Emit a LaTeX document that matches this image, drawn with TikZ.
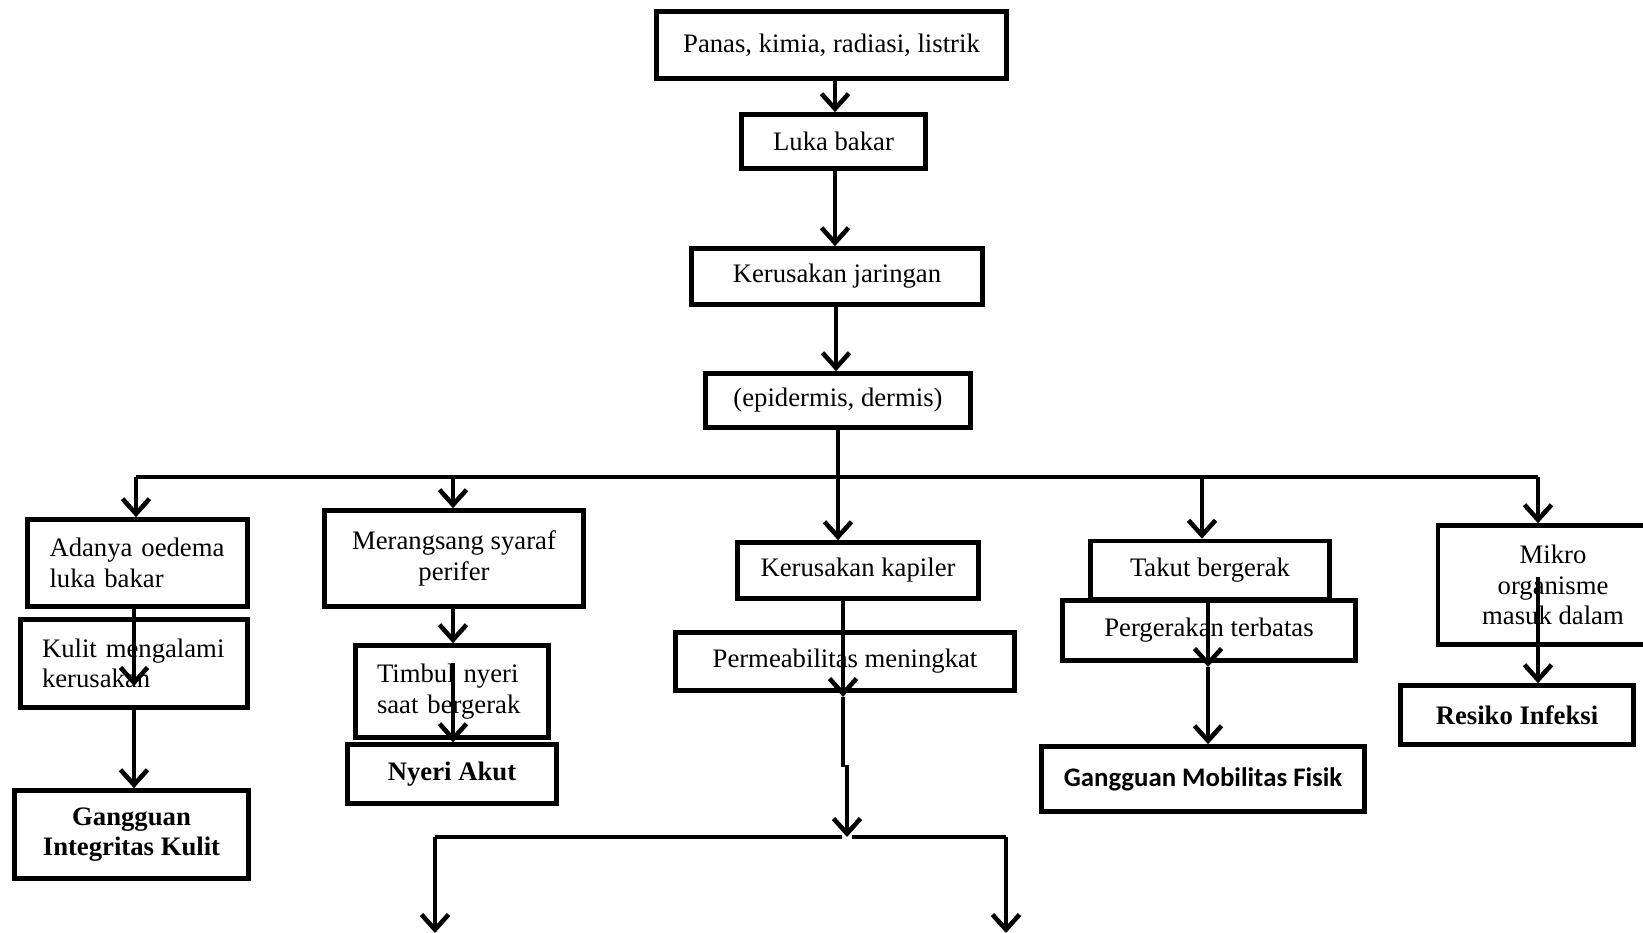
\documentclass[tikz,border=0pt]{standalone}
\usepackage{fontspec}
\setmainfont{Liberation Serif}
\newfontfamily\calibrifont{Carlito}
\usetikzlibrary{arrows.meta}

\begin{document}
\begin{tikzpicture}[x=1pt, y=-1pt,
    box/.style={draw, line width=4.6pt, fill=white, inner sep=0pt, align=center,
        font=\fontsize{26.7}{30.5}\selectfont},
    leftbox/.style={box, align=left},
    wire/.style={line width=4.6pt},
    arr/.style={line width=4.6pt, -{Straight Barb[length=15pt, width=27pt]}}]
\useasboundingbox (0,0) rectangle (1643,933);

% main chain
\node[box, minimum width=350pt, minimum height=67pt] (panas) at (831.5,45) {Panas, kimia, radiasi, listrik};
\node[box, minimum width=184pt, minimum height=54pt] (luka) at (833.5,141.5) {Luka bakar};
\node[box, minimum width=291pt, minimum height=56pt] (jaringan) at (837,276.5) {Kerusakan jaringan};
\node[box, minimum width=265pt, minimum height=54pt] (epidermis) at (838,400.5) {(epidermis, dermis)};

% branches
\node[leftbox, minimum width=220pt, minimum height=87pt, text width=176pt] (oedema) at (137.5,563) {Adanya oedema\\luka bakar};
\node[leftbox, minimum width=227pt, minimum height=88pt, text width=184pt] (kulit) at (134,663.5) {Kulit mengalami\\kerusakan};
\node[box, minimum width=234pt, minimum height=88pt, font=\fontsize{26.7}{30.5}\selectfont\bfseries] (integritas) at (131.5,834.5) {Gangguan\\Integritas Kulit};

\node[box, minimum width=259pt, minimum height=96pt] (syaraf) at (454,558.5) {Merangsang syaraf\\perifer};
\node[leftbox, minimum width=193pt, minimum height=92pt, text width=150pt] (timbul) at (452,691.5) {Timbul nyeri\\saat bergerak};
\node[box, minimum width=209pt, minimum height=59pt, font=\fontsize{26.7}{30.5}\selectfont\bfseries] (nyeri) at (452,774) {Nyeri Akut};

\node[box, minimum width=241pt, minimum height=56pt] (kapiler) at (858,570.5) {Kerusakan kapiler};
\node[box, minimum width=339pt, minimum height=58pt] (permeabilitas) at (845,661.5) {Permeabilitas meningkat};

\node[box, minimum width=239pt, minimum height=58pt] (takut) at (1210,570) {Takut bergerak};
\node[box, minimum width=293pt, minimum height=60pt] (terbatas) at (1209,630.5) {Pergerakan terbatas};
\node[box, minimum width=323pt, minimum height=65pt, font=\fontsize{26.8}{30}\selectfont\calibrifont\bfseries] (mobilitas) at (1203,779) {Gangguan Mobilitas Fisik};

\node[box, minimum width=230pt, minimum height=119pt] (mikro) at (1553,585) {Mikro\\organisme\\masuk dalam};
\node[box, minimum width=233pt, minimum height=59pt, font=\fontsize{26.7}{30.5}\selectfont\bfseries] (infeksi) at (1517,715) {Resiko Infeksi};

% bus lines
\coordinate (bus) at (838,477);
\coordinate (bus-a) at (136,477);
\coordinate (bus-b) at (453,477);
\coordinate (bus-d) at (1202,477);
\coordinate (bus-e) at (1538,477);

\coordinate (kulit-tip) at (134,686);
\coordinate (timbul-top) at (453,663);
\coordinate (perm-tip) at (843,697);
\coordinate (perm-low) at (843,767);
\coordinate (split-top) at (847,765);
\coordinate (split) at (847,837);
\coordinate (split-l) at (435,837);
\coordinate (split-r) at (1006,837);
\coordinate (out-l) at (435,933);
\coordinate (out-r) at (1006,933);
\coordinate (takut-tip) at (1208,667);
\coordinate (mikro-in) at (1538,577);

\draw[arr] (panas.south -| 835,0) -- (luka.north -| 835,0);
\draw[arr] (luka.south -| 835,0) -- (jaringan.north -| 835,0);
\draw[arr] (jaringan.south -| 836,0) -- (epidermis.north -| 836,0);
\draw[wire] (epidermis.south) -- (bus);
\draw[wire] (bus-a) -- (bus-e);

\draw[arr] (bus-a) -- (bus-a |- oedema.north);
\draw[arr] (bus-b) -- (bus-b |- syaraf.north);
\draw[arr] (bus) -- (bus |- kapiler.north);
\draw[arr] (bus-d) -- (bus-d |- takut.north);
\draw[arr] (bus-e) -- (bus-e |- mikro.north);

\draw[arr] (oedema.south -| kulit-tip) -- (kulit-tip);
\draw[arr] (kulit.south -| kulit-tip) -- (integritas.north -| kulit-tip);

\draw[arr] (syaraf.south -| timbul-top) -- (timbul.north -| timbul-top);
\draw[arr] (timbul-top) -- (nyeri.north -| timbul-top);

\draw[arr] (kapiler.south -| perm-tip) -- (perm-tip);
\draw[wire] (perm-tip) -- (perm-low);
\draw[arr] (split-top) -- (split);
\draw[wire] (split-l) -- ([xshift=-5pt]split);
\draw[wire] ([xshift=5pt]split) -- (split-r);
\draw[arr] (split-l) -- (out-l);
\draw[arr] (split-r) -- (out-r);

\draw[arr] (takut.south -| takut-tip) -- (takut-tip);
\draw[arr] (takut-tip) -- (mobilitas.north -| takut-tip);

\draw[arr] (mikro-in) -- (infeksi.north -| mikro-in);
\end{tikzpicture}
\end{document}
